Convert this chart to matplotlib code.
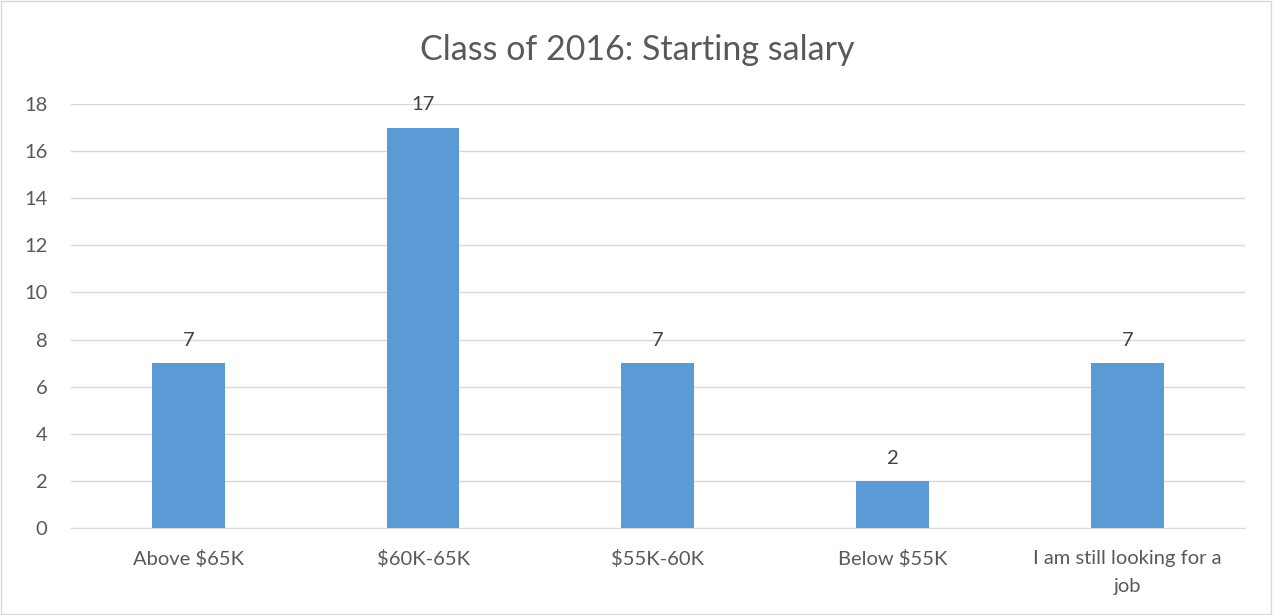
import matplotlib.pyplot as plt
from matplotlib.patches import Rectangle

# Data
categories = ['Above $65K', '$60K-65K', '$55K-60K', 'Below $55K', 'I am still looking for a\njob']
counts = [7, 17, 7, 2, 7]
yticks = [0, 2, 4, 6, 8, 10, 12, 14, 16, 18]

plt.rcParams['font.family'] = ['Lato', 'DejaVu Sans']
text_color = '#595959'

fig = plt.figure(figsize=(12.74, 6.15), dpi=100)
ax = fig.add_axes([0.0557, 0.1415, 0.9213, 0.6894])

x = list(range(len(categories)))
bars = ax.bar(x, counts, width=0.31, color='#5B9BD5', zorder=3)

# Value labels above bars
for xi, v in zip(x, counts):
    ax.text(xi, v + 0.6, str(v), ha='center', va='bottom', fontsize=14.5, color='#404040')

ax.set_xlim(-0.5, len(categories) - 0.5)
ax.set_ylim(0, 18)
ax.set_yticks(yticks)
ax.set_xticks(x)
ax.set_xticklabels(categories, fontsize=14.5, color=text_color, linespacing=1.75)
ax.tick_params(axis='y', labelsize=14.5, labelcolor=text_color, length=0, pad=17)
ax.tick_params(axis='x', length=0, pad=16)

ax.grid(axis='y', color='#D9D9D9', linewidth=1, zorder=0)
for side in ['top', 'right', 'left']:
    ax.spines[side].set_visible(False)
ax.spines['bottom'].set_color('#D9D9D9')

fig.text(0.5, 0.919, 'Class of 2016: Starting salary', ha='center', va='center',
         fontsize=24.5, color=text_color)

# Chart border
fig.patches.append(Rectangle((0.001, 0.001), 0.997, 0.997, transform=fig.transFigure,
                             fill=False, edgecolor='#D9D9D9', linewidth=1))

fig.savefig('out.png', dpi=100)
